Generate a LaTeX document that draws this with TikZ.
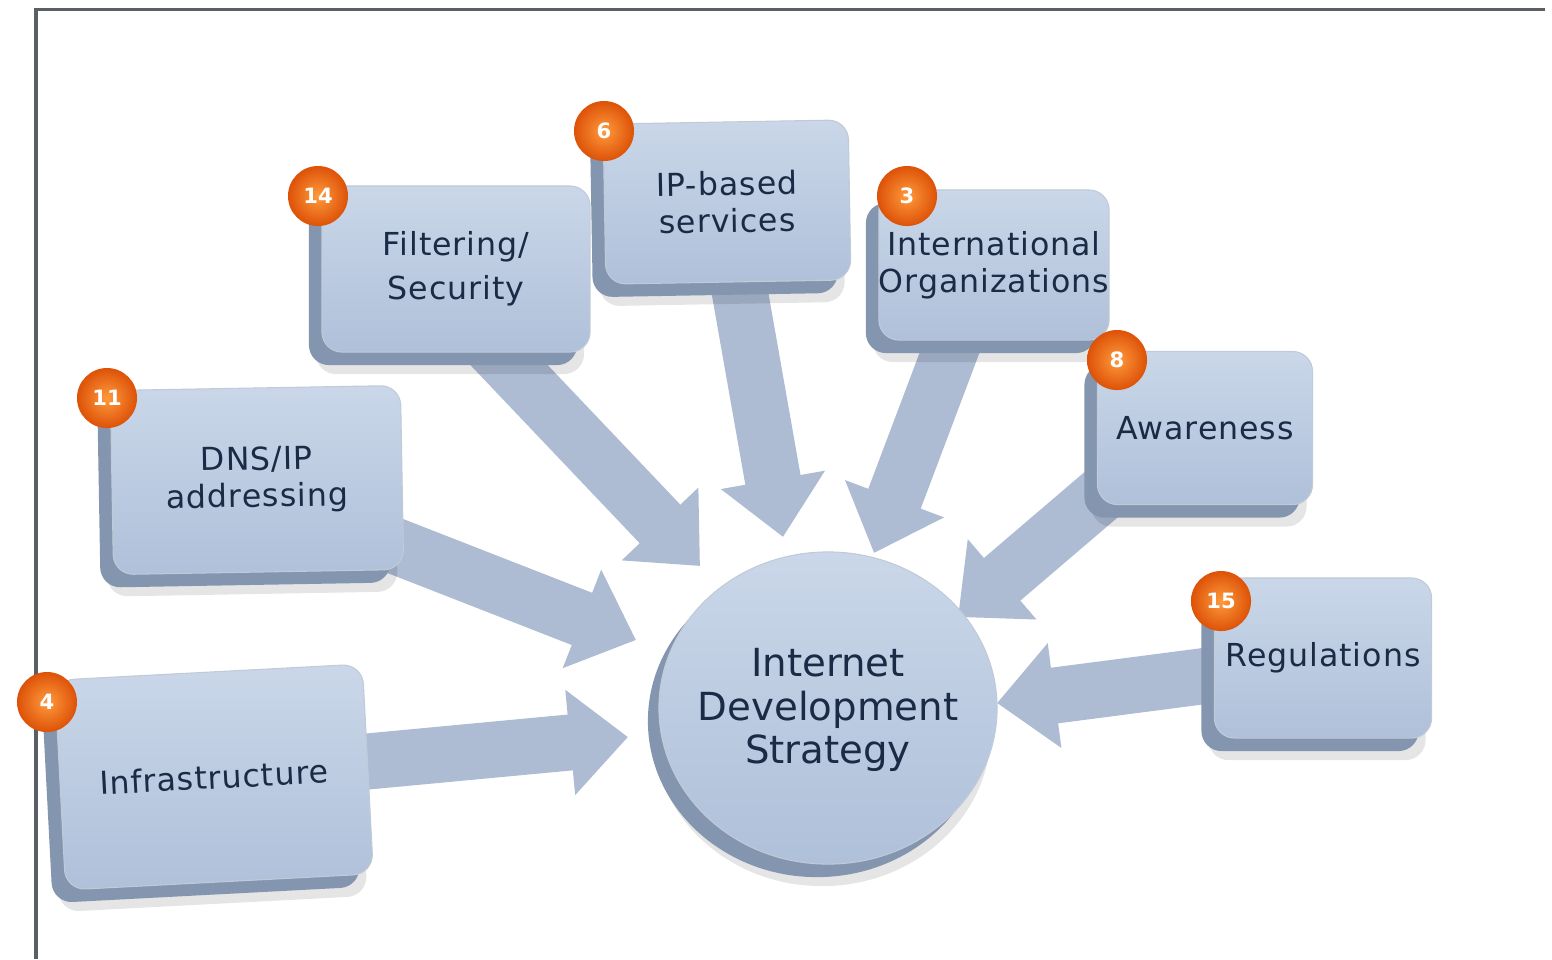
\documentclass[tikz,border=0pt]{standalone}
\usepackage{fontspec}
\setmainfont{DejaVu Sans}
\usetikzlibrary{arrows.meta,shadows,shapes.geometric}
\definecolor{arrowc}{HTML}{ADBBD3}
\definecolor{boxtop}{HTML}{CAD7E9}
\definecolor{boxbot}{HTML}{AFC0D9}
\definecolor{boxside}{HTML}{8495AF}
\definecolor{txt}{HTML}{1B2B45}
\definecolor{badgeA}{HTML}{FF9A3C}
\definecolor{badgeB}{HTML}{DD5208}
\definecolor{framec}{HTML}{5A5F66}
\begin{document}
\begin{tikzpicture}[x=0.01cm,y=-0.01cm,
  blockarrow/.style={draw=arrowc, line width=0.56cm, -{Triangle[width=1.02cm,length=0.58cm]}},
  box/.style={rectangle, rounded corners=0.2cm, top color=boxtop, bottom color=boxbot,
    draw=boxside!50, line width=0.3pt, align=center, text=txt,
    font=\fontsize{9}{10.5}\selectfont\addfontfeatures{LetterSpace=3}, inner sep=0pt,
    drop shadow={shadow xshift=-0.06cm, shadow yshift=-0.22cm, fill=black, opacity=0.10},
    drop shadow={shadow xshift=-0.13cm, shadow yshift=-0.13cm, fill=boxside, opacity=1}},
  hub/.style={ellipse, top color=boxtop, bottom color=boxbot, draw=boxside!50, line width=0.3pt,
    inner sep=0pt,
    drop shadow={shadow xshift=-0.06cm, shadow yshift=-0.22cm, fill=black, opacity=0.10},
    drop shadow={shadow xshift=-0.11cm, shadow yshift=-0.13cm, fill=boxside, opacity=1}},
  hubtext/.style={align=center, text=txt, font=\fontsize{11}{12.4}\selectfont},
  badge/.style={circle, minimum size=0.6cm, inner sep=0pt, inner color=badgeA, outer color=badgeB,
    text=white, font=\fontsize{6}{6}\bfseries\selectfont}
]
\useasboundingbox (0,0) rectangle (1552,959);
\fill[white] (0,0) rectangle (1552,959);
% frame
\draw[framec, line width=0.03cm] (36,959) -- (36,9) -- (1545,9);

% arrow end points
\coordinate (infraS) at (330,765);  \coordinate (infraT) at (628,737);
\coordinate (dnsS)   at (380,540);  \coordinate (dnsT)   at (636,640);
\coordinate (filtS)  at (490,345);  \coordinate (filtT)  at (700,566);
\coordinate (ipS)    at (735,265);  \coordinate (ipT)    at (783,537);
\coordinate (intlS)  at (960,325);  \coordinate (intlT)  at (874,553);
\coordinate (awareS) at (1130,470); \coordinate (awareT) at (958,617);
\coordinate (regS)   at (1235,672); \coordinate (regT)   at (997,703);

\draw[blockarrow] (infraS) -- (infraT);
\draw[blockarrow] (dnsS) -- (dnsT);
\draw[blockarrow] (filtS) -- (filtT);
\draw[blockarrow] (ipS) -- (ipT);
\draw[blockarrow] (intlS) -- (intlT);
\draw[blockarrow] (awareS) -- (awareT);
\draw[blockarrow] (regS) -- (regT);

% boxes
\node[box, minimum width=2.68cm, minimum height=1.66cm] (filt) at (456,269) {Filtering/\\[2pt]Security};
\node[box, minimum width=2.45cm, minimum height=1.60cm, rotate=1] (ip) at (727,202) {IP-based\\services};
\node[box, minimum width=2.28cm, minimum height=1.50cm] (intl) at (994,265) {International\\Organizations};
\node[box, minimum width=2.15cm, minimum height=1.53cm] (aware) at (1205,428) {Awareness};
\node[box, minimum width=2.17cm, minimum height=1.60cm] (reg) at (1323,658) {Regulations};
\node[box, minimum width=2.90cm, minimum height=1.84cm, rotate=1] (dns) at (257,480) {DNS/IP\\addressing};
\node[box, minimum width=3.08cm, minimum height=2.10cm, rotate=3] (infra) at (214,777) {Infrastructure};

% hub
\node[hub, minimum width=3.38cm, minimum height=3.12cm,
      label={[hubtext, yshift=-0.02cm]center:Internet\\Development\\Strategy}] (ids) at (828,708) {};

% badges
\node[badge] (b14) at (318,196) {14};
\node[badge] (b6) at (604,131) {6};
\node[badge] (b3) at (907,196) {3};
\node[badge] (b8) at (1117,360) {8};
\node[badge] (b15) at (1221,601) {15};
\node[badge] (b11) at (107,398) {11};
\node[badge] (b4) at (47,702) {4};
\end{tikzpicture}
\end{document}
